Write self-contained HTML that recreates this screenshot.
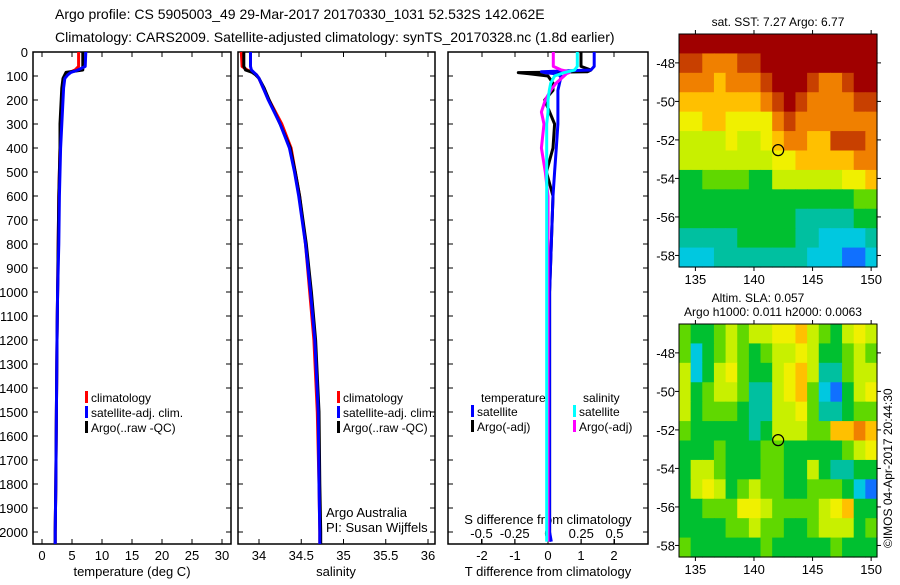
<!DOCTYPE html>
<html><head><meta charset="utf-8"><style>
body{margin:0;background:#fff}
svg text{font-family:"Liberation Sans",sans-serif;fill:#000}
</style></head><body>
<svg id="c" width="900" height="580" xmlns="http://www.w3.org/2000/svg">
<rect width="900" height="580" fill="#fff"/>
<text x="55" y="19" font-size="14">Argo profile: CS 5905003_49 29-Mar-2017 20170330_1031 52.532S 142.062E</text>
<text x="55" y="42" font-size="14">Climatology: CARS2009. Satellite-adjusted climatology: synTS_20170328.nc (1.8d earlier)</text>
<g id="g"></g>
</svg>
<script>
// ---- data ----
var depthTicks=[0,100,200,300,400,500,600,700,800,900,1000,1100,1200,1300,1400,1500,1600,1700,1800,1900,2000];
var tTicks=[0,5,10,15,20,25,30];
var sTicks=[34,34.5,35,35.5,36];
var dTTicks=[-2,-1,0,1,2];
var dSTicks=[-0.5,-0.25,0,0.25,0.5];
var dSTickLabels=["-0.5","-0.25","0","0.25","0.5"];
var depths=[0,60,75,85,95,110,150,200,300,400,500,600,800,1000,1200,1500,1800,2000,2050];
var tempClim=[6.1,6.1,5.5,4.6,4.1,3.7,3.4,3.3,3.1,3.0,2.9,2.8,2.7,2.6,2.5,2.4,2.3,2.2,2.2];
var tempSat=[7.3,7.2,6.0,4.8,4.3,3.8,3.6,3.5,3.3,3.1,3.0,2.9,2.8,2.6,2.5,2.4,2.3,2.2,2.2];
var tempArgo=[6.8,6.8,6.8,4.0,3.8,3.5,3.3,3.2,3.0,3.0,2.9,2.8,2.7,2.6,2.5,2.4,2.3,2.2,2.2];
var salClim=[33.79,33.8,33.86,33.93,33.97,34.0,34.05,34.12,34.27,34.38,34.43,34.48,34.55,34.6,34.65,34.69,34.71,34.72,34.72];
var salSat=[33.9,33.9,33.91,33.94,33.97,34.0,34.05,34.11,34.25,34.36,34.42,34.47,34.55,34.61,34.66,34.7,34.71,34.72,34.72];
var salArgo=[33.82,33.82,33.84,33.92,33.96,34.0,34.06,34.12,34.25,34.37,34.43,34.48,34.56,34.62,34.67,34.71,34.72,34.73,34.73];
var diffDepths=[0,60,75,82,86,90,100,130,160,200,250,300,400,500,600,800,1000,1500,2000,2040];
var dTSat=[1.4,1.4,1.3,-0.2,-0.1,0.2,0.4,0.35,0.3,0.3,0.3,0.3,0.25,0.2,0.15,0.1,0.05,0.05,0.05,0.1];
var dTArgo=[1.0,1.0,1.3,1.2,-0.9,-0.6,0.0,0.15,0.15,-0.1,0.05,0.2,0.15,-0.05,0.15,0.1,0.05,0.05,0.05,0.05];
var dSSat=[0.22,0.22,0.2,0.15,0.12,0.1,0.05,0.02,0.01,0.0,0.0,-0.01,-0.01,-0.01,-0.01,-0.01,-0.01,-0.01,-0.01,-0.01];
var dSArgo=[0.04,0.04,0.1,0.16,0.16,0.14,0.12,0.06,0.02,-0.02,-0.05,-0.03,-0.05,-0.02,0.0,0.0,0.0,0.0,0.0,0.0];
var lonTicks=[135,140,145,150];
var latTicks=[-48,-50,-52,-54,-56,-58];
var argoLon=142.062, argoLat=-52.532;
var cmap=["#1070ff","#00c8e0","#00c0a0","#00c030","#60d800","#c8f000","#f0f000","#ffc000","#f08000","#c84000","#a00000"];
var sstGrid=[
[10,10,10,10,10,10,10,10,10,10,10,10,10,10,10,10,10],
[9,9,8,8,8,9,9,10,10,10,10,10,10,10,10,10,10],
[8,8,8,7,8,8,8,9,10,10,10,9,8,8,9,10,10],
[7,7,7,7,7,7,7,8,9,10,9,8,8,8,8,9,9],
[6,6,7,7,6,6,6,6,8,9,8,8,8,8,8,8,8],
[5,5,5,5,6,5,5,6,7,8,8,7,7,9,9,9,8],
[5,5,5,5,5,5,5,5,6,6,7,7,7,7,7,8,8],
[3,3,4,4,4,4,3,3,5,5,5,5,5,5,6,6,7],
[3,3,3,3,3,3,3,3,3,3,3,3,3,3,3,4,4],
[3,3,3,3,3,3,3,3,3,3,2,2,2,2,2,3,3],
[2,2,2,2,2,3,3,3,3,3,2,2,1,1,1,1,2],
[1,1,1,2,2,2,2,2,2,2,2,1,1,1,0,0,1]];
var slaGrid=[
[4,3,3,4,5,4,5,5,6,6,7,5,4,3,5,6,5],
[4,1,3,4,5,4,3,4,5,5,6,5,3,3,4,5,4],
[5,1,3,5,6,4,3,3,5,6,7,5,2,2,4,5,5],
[5,3,4,5,5,4,2,2,5,6,7,4,1,0,3,5,6],
[5,3,4,4,4,3,2,2,5,5,6,4,2,2,3,4,4],
[4,3,3,3,3,3,2,3,5,5,5,4,4,7,7,8,7],
[3,3,3,4,3,3,3,4,4,3,3,3,3,3,4,5,6],
[3,5,5,4,3,3,3,4,4,3,3,5,3,2,2,3,3],
[3,5,6,5,3,4,5,4,4,3,3,4,4,4,3,1,0],
[3,3,4,4,4,6,6,5,4,4,4,4,5,6,7,3,3],
[3,3,3,3,4,4,5,4,4,3,3,4,5,5,5,3,4],
[4,3,3,3,3,3,3,4,3,3,3,3,3,4,3,3,3]];

var NS="http://www.w3.org/2000/svg", G=document.getElementById('g');
function mk(t,a,txt){var e=document.createElementNS(NS,t);for(var k in a)e.setAttribute(k,a[k]);if(txt!==undefined)e.textContent=txt;G.appendChild(e);return e;}
var Y0=52, PY=0.24;
function yD(d){return Y0+d*PY;}
var panels=[[33,231],[238,435],[448,648]];
var xT=function(v){return 42+v*6;};
var xS=function(v){return 259+(v-34)*84.5;};
var xDT=function(v){return 548+v*33;};
var xDS=function(v){return 548+v*133;};
// panel frames
panels.forEach(function(p,i){
  var r=mk('rect',{x:p[0],y:52,width:p[1]-p[0],height:492,fill:'none',stroke:'#000','stroke-width':1.5});
  
  
});
// depth axis
depthTicks.forEach(function(d){
  var y=yD(d);
  var t=mk('text',{x:28,y:y+5,'font-size':13,'text-anchor':'end'},String(d));
  
  
  panels.forEach(function(p){
    mk('line',{x1:p[0],x2:p[0]+5,y1:y,y2:y,stroke:'#000'});
    mk('line',{x1:p[1]-5,x2:p[1],y1:y,y2:y,stroke:'#000'});
  });
});
function xticks(ticks,labels,fx,y,top,name){
  ticks.forEach(function(v,i){
    var x=fx(v);
    mk('line',{x1:x,x2:x,y1:544,y2:539,stroke:'#000'});
    if(top)mk('line',{x1:x,x2:x,y1:52,y2:57,stroke:'#000'});
    var t=mk('text',{x:x,y:y,'font-size':13,'text-anchor':'middle'},labels[i]);
    
    
  });
}
xticks(tTicks,tTicks.map(String),xT,560,true,'temperature-tick-label');
xticks(sTicks,sTicks.map(String),xS,560,true,'salinity-tick-label');
xticks(dTTicks,dTTicks.map(String),xDT,560,true,'tdiff-tick-label');
dSTicks.forEach(function(v,i){
  var x=xDS(v);
  mk('line',{x1:x,x2:x,y1:544,y2:539,stroke:'#000'});
  var t=mk('text',{x:x,y:538,'font-size':13,'text-anchor':'middle'},dSTickLabels[i]);
  
  
});
function lbl(x,y,s,name,anchor,size){var t=mk('text',{x:x,y:y,'font-size':size||13,'text-anchor':anchor||'start'},s);return t;}
lbl(132,576,'temperature (deg C)','x-axis-title-temperature','middle');
lbl(336,576,'salinity','x-axis-title-salinity','middle');
lbl(548,576,'T difference from climatology','x-axis-title-tdiff','middle');
lbl(548,524,'S difference from climatology','sdiff-axis-title','middle');
lbl(326,517,'Argo Australia','credit-argo-australia');
lbl(326,532,'PI: Susan Wijffels','credit-pi');
// series
function line(xs,ds,fx,col,w,name){
  var pts=xs.map(function(v,i){return fx(v).toFixed(1)+','+yD(ds[i]).toFixed(1);}).join(' ');
  var p=mk('polyline',{points:pts,fill:'none',stroke:col,'stroke-width':w,'stroke-linejoin':'round'});
  
  
}
line(tempClim,depths,xT,'#f00',3,'temp-climatology-line');
line(tempArgo,depths,xT,'#000',3,'temp-argo-line');
line(tempSat,depths,xT,'#00f',3,'temp-satellite-line');
line(salClim,depths,xS,'#f00',3,'sal-climatology-line');
line(salArgo,depths,xS,'#000',3,'sal-argo-line');
line(salSat,depths,xS,'#00f',3,'sal-satellite-line');
line(dTArgo,diffDepths,xDT,'#000',3,'tdiff-argo-line');
line(dTSat,diffDepths,xDT,'#00f',3,'tdiff-satellite-line');
line(dSArgo,diffDepths,xDS,'#f0f',3,'sdiff-argo-line');
line(dSSat,diffDepths,xDS,'#0ff',3,'sdiff-satellite-line');
// legends
function legend(x,y,col,txt,name){
  var r=mk('rect',{x:x,y:y-11,width:3,height:12,fill:col});
  
  
  lbl(x+6,y,txt,name,'start',12);
}
[[85,'climatology','#f00'],[85,'satellite-adj. clim.','#00f'],[85,'Argo(..raw -QC)','#000']].forEach(function(l,i){legend(l[0],402+i*15,l[2],l[1],'legend-temp-'+i);});
[[337,'climatology','#f00'],[337,'satellite-adj. clim.','#00f'],[337,'Argo(..raw -QC)','#000']].forEach(function(l,i){legend(l[0],402+i*15,l[2],l[1],'legend-sal-'+i);});
lbl(481,402,'temperature','legend-diff-temperature','start',12);
lbl(583,402,'salinity','legend-diff-salinity','start',12);
legend(471,416,'#00f','satellite','legend-diff-tsat');
legend(471,431,'#000','Argo(-adj)','legend-diff-targo');
legend(573,416,'#0ff','satellite','legend-diff-ssat');
legend(573,431,'#f0f','Argo(-adj)','legend-diff-sargo');
// maps
function map(top,bottom,grid,name){
  var L=679,R=877, lon0=133.6, lon1=150.5, lat0=-46.5, lat1=-58.6;
  var fx=function(v){return L+(v-lon0)/(lon1-lon0)*(R-L);};
  var fy=function(v){return top+(v-lat0)/(lat1-lat0)*(bottom-top);};
  var rows=grid.length, cols=grid[0].length, cw=(R-L)/cols, ch=(bottom-top)/rows;
  grid.forEach(function(row,i){row.forEach(function(v,j){
    var c=mk('rect',{x:(L+j*cw).toFixed(2),y:(top+i*ch).toFixed(2),width:(cw+0.6).toFixed(2),height:(ch+0.6).toFixed(2),fill:cmap[v]});
    
    
  });});
  var f=mk('rect',{x:L,y:top,width:R-L,height:bottom-top,fill:'none',stroke:'#000'});
  
  
  lonTicks.forEach(function(v){var x=fx(v);
    mk('line',{x1:x,x2:x,y1:bottom,y2:bottom+4,stroke:'#000'});
    mk('line',{x1:x,x2:x,y1:top,y2:top-4,stroke:'#000'});
    lbl(x,bottom+17,String(v),name+'-lon-label','middle',13);});
  latTicks.forEach(function(v){var y=fy(v);
    mk('line',{x1:L-4,x2:L,y1:y,y2:y,stroke:'#000'});
    mk('line',{x1:R,x2:R+4,y1:y,y2:y,stroke:'#000'});
    lbl(L-4,y+5,String(v),name+'-lat-label','end',13);});
  var m=mk('circle',{cx:fx(argoLon),cy:fy(argoLat),r:5.5,fill:'none',stroke:'#000','stroke-width':1.2});
  
  
}
map(34,267,sstGrid,'sst-map');
map(324,557,slaGrid,'sla-map');
lbl(778,26,'sat. SST: 7.27 Argo: 6.77','sst-map-title','middle',12);
lbl(758,302,'Altim. SLA: 0.057','sla-map-title','middle',12);
lbl(773,316,'Argo h1000: 0.011 h2000: 0.0063','sla-map-subtitle','middle',12);
var im=lbl(0,0,'©IMOS 04-Apr-2017 20:44:30','imos-timestamp','start',12);
im.setAttribute('transform','translate(892,548) rotate(-90)');
</script>
</body></html>
